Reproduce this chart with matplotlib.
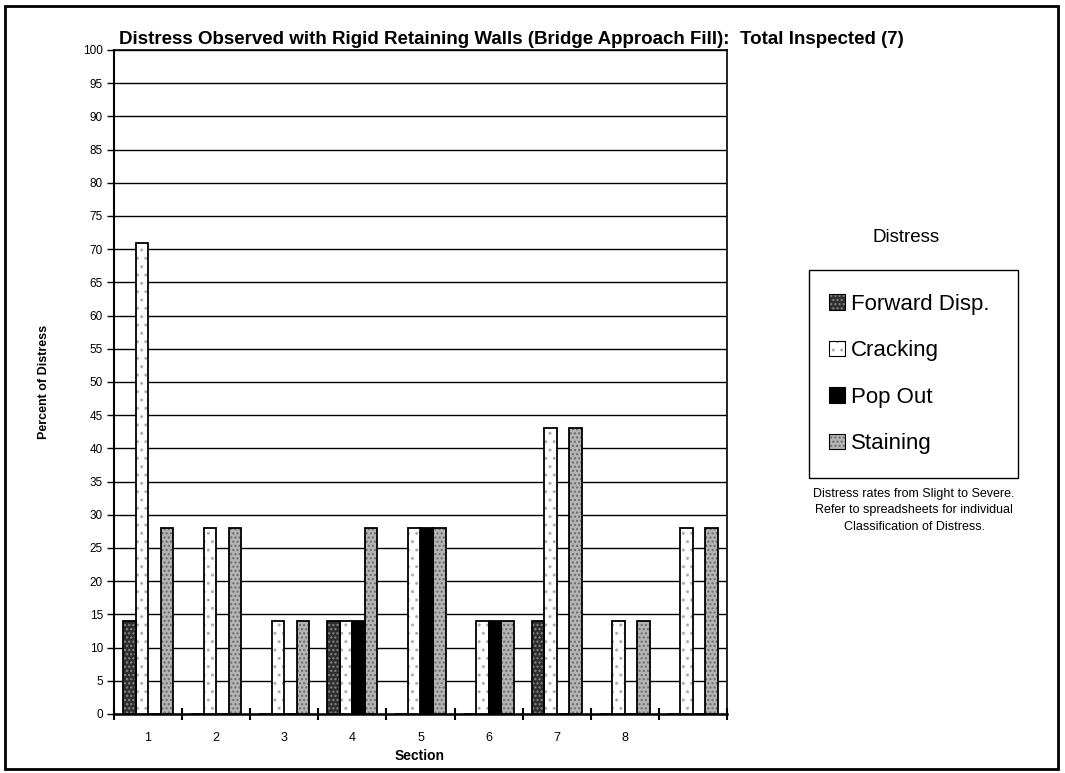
import matplotlib
matplotlib.use("Agg")
import matplotlib.pyplot as plt
from matplotlib.patches import Rectangle, Patch
import numpy as np

plt.rcParams['font.family'] = ['Liberation Sans', 'DejaVu Sans']
plt.rcParams['hatch.linewidth'] = 1.0

sections = ["1", "2", "3", "4", "5", "6", "7", "8", ""]
series_names = ["Forward Disp.", "Cracking", "Pop Out", "Staining"]
forward_disp = [14, 0, 0, 14, 0, 0, 14, 0, 0]
cracking = [71, 28, 14, 14, 28, 14, 43, 14, 28]
pop_out = [0, 0, 0, 14, 28, 14, 0, 0, 0]
staining = [28, 28, 14, 28, 28, 14, 43, 14, 28]
series_values = [forward_disp, cracking, pop_out, staining]
face_colors = ["#2e2e2e", "#ffffff", "#000000", "#b4b4b4"]
dot_colors = ["#8a8a8a", "#b0b0b0", "#000000", "#6a6a6a"]
hatches = ["....", "..", None, "...."]

W, H = 1065, 773
fig = plt.figure(figsize=(W / 100, H / 100), dpi=100)

# outer frame
fig.add_artist(Rectangle((5 / W, 4 / H), (1058 - 5) / W, (767 - 4) / H,
                         transform=fig.transFigure, fill=False,
                         edgecolor="black", lw=2))

ax_top, ax_bot = 50, 714
ax = fig.add_axes([114 / W, 1 - ax_bot / H, (727 - 114) / W, (ax_bot - ax_top) / H])
x = np.arange(len(sections))
bw = 0.184
for i, vals in enumerate(series_values):
    pos = x + (i - 1.5) * bw
    ax.bar(pos, vals, width=bw, facecolor=face_colors[i], edgecolor=dot_colors[i],
           hatch=hatches[i], linewidth=0, zorder=3)
    ax.bar(pos, vals, width=bw, fill=False, edgecolor="black",
           linewidth=1.3, zorder=4)

ax.set_xlim(-0.5, len(sections) - 0.5)
ax.set_ylim(0, 100)
ax.set_yticks(np.arange(0, 101, 5))
ax.tick_params(axis="y", labelsize=8.5, length=5, width=1, direction="out", pad=3)
ax.set_xticks(x)
ax.set_xticklabels(sections)
ax.tick_params(axis="x", which="major", length=0, labelsize=9, pad=13)
ax.set_xticks(np.arange(-0.5, len(sections), 1), minor=True)
ax.tick_params(axis="x", which="minor", length=8, width=1.5, direction="inout")
ax.grid(axis="y", color="black", linewidth=1, zorder=0)
for s in ax.spines.values():
    s.set_linewidth(1.2)
ax.spines["bottom"].set_linewidth(1.8)
ax.spines["left"].set_linewidth(1.5)

fig.text(420 / W, 1 - 756 / H, "Section", fontsize=10, fontweight="bold",
         ha="center", va="center")
fig.text(44 / W, 1 - 382 / H, "Percent of Distress", rotation=90,
         fontsize=9, fontweight="bold", ha="center", va="center")

fig.text(119 / W, 1 - 40 / H,
         "Distress Observed with Rigid Retaining Walls (Bridge Approach Fill):  Total Inspected (7)",
         fontsize=13.5, fontweight="bold", ha="left", va="center")

# legend frame drawn explicitly
fig.add_artist(Rectangle((809 / W, 1 - 478 / H), (1018 - 809) / W, (478 - 270) / H,
                         transform=fig.transFigure, fill=False,
                         edgecolor="black", lw=1.0))
handles = []
for i in range(4):
    fill_p = Patch(facecolor=face_colors[i], edgecolor=dot_colors[i],
                   hatch=hatches[i], linewidth=0)
    edge_p = Patch(fill=False, edgecolor="black", linewidth=0.8)
    handles.append((fill_p, edge_p))
leg = fig.legend(handles, series_names, loc="center left",
                 bbox_to_anchor=(829 / W, 1 - 374 / H), fontsize=16,
                 frameon=False, labelspacing=1.15, handlelength=0.7,
                 handleheight=0.7, handletextpad=0.3, borderpad=0,
                 borderaxespad=0)

fig.text(906 / W, 1 - 237 / H, "Distress", fontsize=13.5, ha="center", va="center")
fig.text(914 / W, 1 - 510 / H,
         "Distress rates from Slight to Severe.\nRefer to spreadsheets for individual\nClassification of Distress.",
         fontsize=9, ha="center", va="center", linespacing=1.5)

fig.savefig("out.png", dpi=100)
